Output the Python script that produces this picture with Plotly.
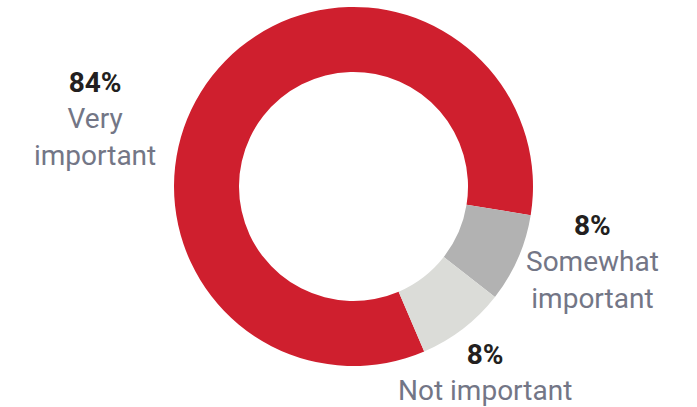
import plotly.graph_objects as go

# Data
categories = ["Very important", "Somewhat important", "Not important"]
values = [84, 8, 8]
pct_labels = ["84%", "8%", "8%"]
label_lines = [["Very", "important"], ["Somewhat", "important"], ["Not important"]]

colors = ["#CF1F2E", "#B2B2B2", "#DBDCD8"]

W, H = 697, 407
cx, cy, R = 353.5, 186.5, 179.5

fig = go.Figure(
    go.Pie(
        labels=categories,
        values=values,
        hole=0.638,
        sort=False,
        direction="clockwise",
        rotation=156.8,
        marker=dict(colors=colors, line=dict(width=0)),
        textinfo="none",
        hoverinfo="label+percent",
        domain=dict(x=[(cx - R) / W, (cx + R) / W], y=[1 - (cy + R) / H, 1 - (cy - R) / H]),
    )
)

# label positions (pixel centers of each text block)
label_pos = [(95, 119), (592, 262), (485, 372)]

for (px, py), pct, lines in zip(label_pos, pct_labels, label_lines):
    text = "<b style='color:#231F20'>" + pct + "</b><br>" + "<br>".join(lines)
    fig.add_annotation(
        x=px / W, y=1 - py / H, xref="paper", yref="paper",
        xanchor="center", yanchor="middle", align="center",
        text=text, showarrow=False,
        font=dict(family="Roboto", size=28, color="#737686"),
    )

fig.update_layout(
    width=W, height=H,
    margin=dict(l=0, r=0, t=0, b=0),
    paper_bgcolor="white", plot_bgcolor="white",
    showlegend=False,
)

fig.write_html("out.html")
